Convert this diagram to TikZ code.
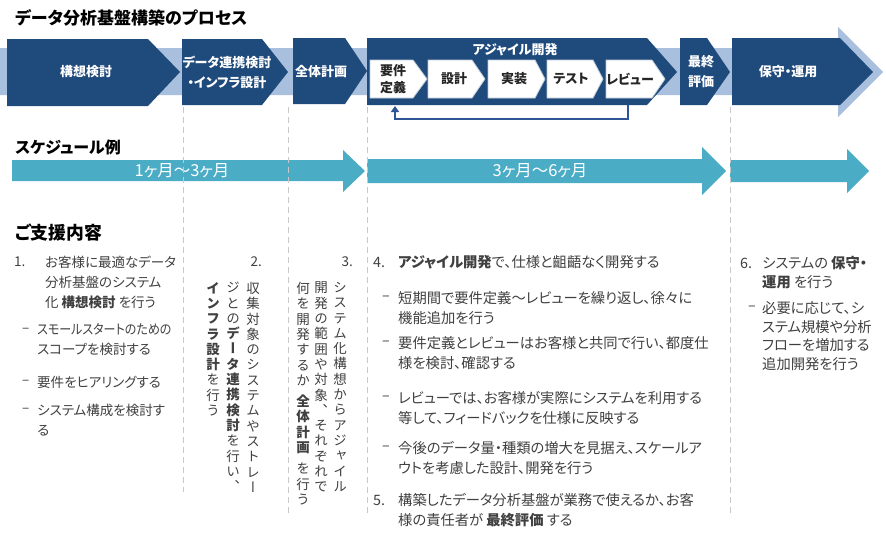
\documentclass[tikz,border=0pt]{standalone}
\usepackage{graphicx}
\usepackage{fontspec}
\setmainfont{Noto Sans CJK JP}[CharacterWidth=AlternateProportional]
\newfontfamily\tatefont{Noto Sans CJK JP}[RawFeature=+vert]
\usetikzlibrary{arrows.meta}
\definecolor{navy}{HTML}{1F4A7C}
\definecolor{lband}{HTML}{A8BFDD}
\definecolor{tealc}{HTML}{4BACC6}
\definecolor{fbc}{HTML}{2F5597}
\definecolor{txt}{HTML}{404040}
\definecolor{dashc}{HTML}{C8C8C8}
\makeatletter
\newcommand\vchars[1]{\@tfor\vch:=#1\do{\hbox to 14pt{\hss\vch\hss}}}
\makeatother
\begin{document}
\begin{tikzpicture}[x=1pt,y=-1pt,
  lbl/.style={text=white,font=\bfseries\fontsize{13}{20}\selectfont,align=center,inner sep=0},
  wlbl/.style={text=black!85,font=\bfseries\fontsize{13}{17}\selectfont,align=center,inner sep=0},
  hdr/.style={text=black,font=\bfseries\fontsize{17}{20}\selectfont,anchor=west,inner sep=0},
  sch/.style={text=white,font=\fontsize{16.5}{18}\selectfont,inner sep=0},
  num/.style={text=txt,anchor=west,inner sep=0},
  para/.style={text=txt,align=left,anchor=north west,inner sep=0},
  vcol/.style={text=txt,anchor=north,inner sep=0,font=\tatefont\fontsize{13.5}{15.3}\selectfont},
  dashln/.style={draw=dashc,dash pattern=on 6pt off 4pt,line width=0.9pt},
  wbox/.style={fill=white,draw=white!70!navy,line width=0.8pt},
  fsA/.style={font=\fontsize{13.5}{20}\selectfont},
  fsB/.style={font=\fontsize{14.3}{19.5}\selectfont},
  fsC/.style={font=\fontsize{14.3}{18.5}\selectfont},
]
\useasboundingbox (0,0) rectangle (886,539);
\fill[white] (0,0) rectangle (886,539);

% light band with big arrow
\fill[lband] (0,48) -- (838,48) -- (838,27) -- (883,72) -- (838,117) -- (838,95) -- (0,95) -- cycle;

% process chevrons
\fill[navy] (7,39) -- (148,39) -- (180,72) -- (148,106) -- (7,106) -- cycle;
\fill[navy] (182,39) -- (262,39) -- (288,72) -- (262,105) -- (182,105) -- cycle;
\fill[navy] (293,38) -- (345,38) -- (367,71) -- (345,104) -- (293,104) -- cycle;
\fill[navy] (367,38) -- (647,38) -- (677,72) -- (647,105) -- (367,105) -- cycle;
\fill[navy] (680,38) -- (707,38) -- (730,72) -- (707,105) -- (680,105) -- cycle;
\fill[navy] (732,38) -- (840,38) -- (873,72) -- (840,105) -- (732,105) -- cycle;

% agile inner steps
\path[wbox] (370,60) -- (413,60) -- (427,79) -- (413,98) -- (370,98) -- cycle;
\path[wbox] (428,60) -- (472,60) -- (485,79) -- (472,98) -- (428,98) -- cycle;
\path[wbox] (488,60) -- (535,60) -- (545,79) -- (535,98) -- (488,98) -- cycle;
\path[wbox] (547,60) -- (593,60) -- (603,79) -- (593,98) -- (547,98) -- cycle;
\path[wbox] (606,60) -- (652,60) -- (665,79) -- (652,98) -- (606,98) -- cycle;

% feedback loop
\coordinate (fbS) at (628,105);
\coordinate (fbE) at (395,106);
\draw[fbc,line width=1.8pt,-{Triangle[width=8pt,length=6pt]}] (fbS) -- (628,119) -| (fbE);

% labels
\node[lbl] (p1) at (86,72) {構想検討};
\node[lbl] (p2) at (227,72) {データ連携検討\\・インフラ設計};
\node[lbl] (p3) at (321,72) {全体計画};
\node[lbl] (p4) at (515,50) {アジャイル開発};
\node[wlbl] (w1) at (393,79) {要件\\定義};
\node[wlbl] (w2) at (454,79) {設計};
\node[wlbl] (w3) at (514,79) {実装};
\node[wlbl] (w4) at (571,79) {テスト};
\node[wlbl] (w5) at (630,79) {レビュー};
\node[lbl] (p5) at (701,72) {最終\\評価};
\node[lbl] (p6) at (788,72) {保守・運用};

% headers
\node[hdr] (title) at (15,18) {データ分析基盤構築のプロセス};
\node[hdr,font=\bfseries\fontsize{16}{20}\selectfont] (sched) at (15,147) {スケジュール例};
\node[hdr,font=\bfseries\fontsize{17.8}{20}\selectfont] (supp) at (15,233) {ご支援内容};

% schedule arrows
\fill[tealc] (12,160) -- (343,160) -- (343,150) -- (365,171) -- (343,192) -- (343,181) -- (12,181) -- cycle;
\fill[tealc] (367,159) -- (702,159) -- (702,147) -- (726,171) -- (702,195) -- (702,183) -- (367,183) -- cycle;
\fill[tealc] (730,160) -- (847,160) -- (847,149) -- (869,171) -- (847,193) -- (847,182) -- (730,182) -- cycle;
\node[sch] (s1) at (182,171) {1ヶ月～3ヶ月};
\node[sch] (s2) at (540,171) {3ヶ月～6ヶ月};

% dashed separators
\draw[dashln] (183,107) -- (183,492);
\draw[dashln] (288,107) -- (288,513);
\draw[dashln] (367,107) -- (367,513);
\draw[dashln] (730,107) -- (730,513);

% column 1
\node[num,fsA] (n1) at (14,262) {1.};
\node[para,fsA] (t1) at (45,255.5) {お客様に最適なデータ\\分析基盤のシステム\\化 \textbf{構想検討} を行う};
\node[num,fsA] (d1a) at (22,330) {–};
\node[para,fsA] (t1a) at (37,323.5) {\scalebox{0.89}[1]{スモールスタートのための}\\スコープを検討する};
\node[num,fsA] (d1b) at (22,382) {–};
\node[para,fsA] (t1b) at (37,375.5) {要件をヒアリングする};
\node[num,fsA] (d1c) at (22,410) {–};
\node[para,fsA] (t1c) at (37,403.5) {システム構成を検討す\\る};

% column 2 (vertical)
\node[num,fsA,anchor=east] (n2) at (262,262) {2.};
\node[vcol] (t2a) at (253,282) {\vbox{\vchars{収集対象のシステムやストレー}}};
\node[vcol] (t2b) at (233,282) {\vbox{\vchars{ジとの}{\bfseries\vchars{データ連携検討}}\vchars{を行い、}}};
\node[vcol] (t2c) at (213,282) {\vbox{{\bfseries\vchars{インフラ設計}}\vchars{を行う}}};

% column 3 (vertical)
\node[num,fsA,anchor=east] (n3) at (353,262) {3.};
\node[vcol] (t3a) at (340,282) {\vbox{\vchars{システム化構想からアジャイル}}};
\node[vcol] (t3b) at (321,282) {\vbox{\vchars{開発の範囲や対象、それぞれで}}};
\node[vcol] (t3c) at (303,282) {\vbox{\vchars{何を開発するか}\kern6pt{\bfseries\vchars{全体計画}}\kern6pt\vchars{を行う}}};

% column 4
\node[num,fsB] (n4) at (373,262) {4.};
\node[para,fsB] (t4) at (398,255.5) {\textbf{アジャイル開発}で、仕様と齟齬なく開発する};
\node[num,fsB] (d4a) at (382,298) {–};
\node[para,fsB] (t4a) at (398,291.5) {短期間で要件定義～レビューを繰り返し、徐々に\\機能追加を行う};
\node[num,fsB] (d4b) at (382,343) {–};
\node[para,fsB] (t4b) at (398,336.5) {要件定義とレビューはお客様と共同で行い、都度仕\\様を検討、確認する};
\node[num,fsB] (d4c) at (382,398) {–};
\node[para,fsB] (t4c) at (398,391.5) {レビューでは、お客様が実際にシステムを利用する\\等して、フィードバックを仕様に反映する};
\node[num,fsB] (d4d) at (382,448) {–};
\node[para,fsB] (t4d) at (398,441.5) {今後のデータ量・種類の増大を見据え、スケールア\\ウトを考慮した設計、開発を行う};
\node[num,fsB] (n5) at (373,500) {5.};
\node[para,fsB] (t5) at (398,493.5) {構築したデータ分析基盤が業務で使えるか、お客\\様の責任者が \textbf{最終評価} する};

% column 6
\node[num,fsC] (n6) at (740,263) {6.};
\node[para,fsC] (t6) at (762,256.5) {システムの \textbf{保守・}\\\textbf{運用} を行う};
\node[num,fsC] (d6) at (748,308) {–};
\node[para,fsC] (t6a) at (762,301.5) {必要に応じて、シ\\ステム規模や分析\\フローを増加する\\追加開発を行う};
\end{tikzpicture}
\end{document}
